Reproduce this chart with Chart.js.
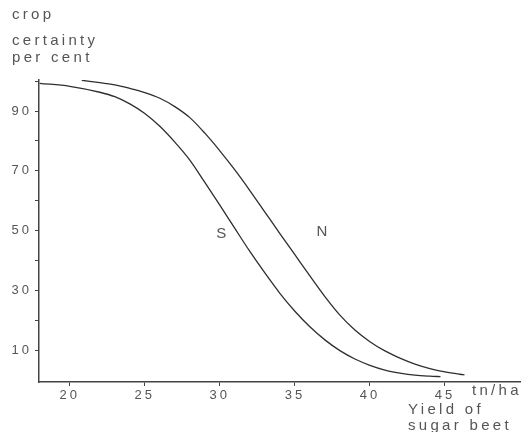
<!DOCTYPE html>
<html>
<head>
<meta charset="utf-8">
<script src="https://cdn.jsdelivr.net/npm/chart.js@4.4.1/dist/chart.umd.min.js"></script>
<style>
  html, body { margin: 0; padding: 0; background: #fff; }
  canvas { display: block; }
</style>
</head>
<body>
<canvas id="chartCanvas" width="522" height="432"></canvas>
<script>
    // values
    const sYield = [18, 20, 22, 23, 24, 25, 26, 27, 28, 29, 30, 31, 32, 33, 34, 35, 36, 37, 38, 39, 40, 41, 42, 43, 44, 44.7];
    const sCertainty = [99.3, 98.3, 96.3, 94.8, 92.4, 89.2, 84.9, 79.6, 73.6, 66.1, 58.5, 50.7, 43, 35.8, 29, 23, 17.8, 13.4, 9.8, 7, 4.9, 3.3, 2.3, 1.6, 1.25, 1.1];

    const nYield = [20.8, 22, 23, 24, 25, 26, 27, 28, 29, 30, 31, 32, 33, 34, 35, 36, 37, 38, 39, 40, 41, 42, 43, 44, 45, 46, 46.3];
    const nCertainty = [100.3, 99.5, 98.8, 97.6, 96.2, 94.3, 91.5, 87.8, 82.6, 76.7, 70.3, 63.4, 56.2, 49, 41.9, 34.8, 27.9, 21.7, 16.7, 12.8, 9.7, 7.3, 5.3, 3.8, 2.7, 1.9, 1.7];

    const xTicks = [20, 25, 30, 35, 40, 45];
    const yTicks = [10, 20, 30, 40, 50, 60, 70, 80, 90, 100];
    const yLabelled = [10, 30, 50, 70, 90];

    const textColor = '#555';
    const lineColor = '#2e2e2e';
    const axisColor = '#444';
    const fontFamily = '"Liberation Sans", Arial, sans-serif';

    function toPoints(xs, ys) {
      return xs.map((x, i) => ({ x: x, y: ys[i] }));
    }

    // wide letter spacing like the scanned original
    const spacingPlugin = {
      id: 'spacing',
      beforeLayout(chart) { chart.ctx.letterSpacing = '3px'; },
      beforeDraw(chart) { chart.ctx.letterSpacing = '3px'; }
    };

    // axis titles and curve names
    const labelsPlugin = {
      id: 'labels',
      afterDraw(chart) {
        const ctx = chart.ctx;
        const xs = chart.scales.x;
        const ys = chart.scales.y;
        ctx.save();
        ctx.letterSpacing = '3.3px';
        ctx.fillStyle = textColor;
        ctx.font = '15px ' + fontFamily;
        ctx.textBaseline = 'alphabetic';
        ctx.textAlign = 'left';
        ctx.fillText('crop', 12, 19);
        ctx.fillText('certainty', 12, 45);
        ctx.fillText('per cent', 12, 62);
        ctx.fillText('tn/ha', 472, 395);
        ctx.fillText('Yield of', 408, 414);
        ctx.fillText('sugar beet', 408, 430);
        ctx.letterSpacing = '0px';
        ctx.textAlign = 'center';
        ctx.textBaseline = 'middle';
        ctx.fillText('S', xs.getPixelForValue(30.1), ys.getPixelForValue(48.8));
        ctx.fillText('N', xs.getPixelForValue(36.8), ys.getPixelForValue(49.5));
        ctx.restore();
      }
    };

    const ctx = document.getElementById('chartCanvas').getContext('2d');
    const chart = new Chart(ctx, {
      type: 'scatter',
      data: {
        datasets: [
          {
            label: 'S',
            data: toPoints(sYield, sCertainty),
            showLine: true,
            borderColor: lineColor,
            borderWidth: 1.3,
            pointRadius: 0,
            cubicInterpolationMode: 'monotone',
            fill: false
          },
          {
            label: 'N',
            data: toPoints(nYield, nCertainty),
            showLine: true,
            borderColor: lineColor,
            borderWidth: 1.3,
            pointRadius: 0,
            cubicInterpolationMode: 'monotone',
            fill: false
          }
        ]
      },
      options: {
        responsive: false,
        animation: false,
        layout: { padding: { left: 0, right: 2, top: 80, bottom: 0 } },
        plugins: {
          legend: { display: false },
          tooltip: { enabled: false }
        },
        scales: {
          x: {
            type: 'linear',
            min: 17.95,
            max: 50,
            afterBuildTicks: scale => { scale.ticks = xTicks.map(v => ({ value: v })); },
            afterFit: scale => { scale.height = 50; },
            border: { display: true, color: axisColor, width: 1.5 },
            grid: { drawOnChartArea: false, drawTicks: true, tickLength: 4, color: axisColor, lineWidth: 1 },
            ticks: {
              color: textColor,
              padding: 2,
              maxRotation: 0,
              font: { family: fontFamily, size: 13 }
            }
          },
          y: {
            type: 'linear',
            min: -0.7,
            max: 100.4,
            afterBuildTicks: scale => { scale.ticks = yTicks.map(v => ({ value: v })); },
            afterFit: scale => { scale.width = 39; },
            border: { display: true, color: axisColor, width: 1.5 },
            grid: { drawOnChartArea: false, drawTicks: true, tickLength: 4, color: axisColor, lineWidth: 1 },
            ticks: {
              color: textColor,
              padding: 3,
              font: { family: fontFamily, size: 13 },
              callback: v => yLabelled.includes(v) ? String(v) : ''
            }
          }
        }
      },
      plugins: [spacingPlugin, labelsPlugin]
    });
</script>
</body>
</html>
